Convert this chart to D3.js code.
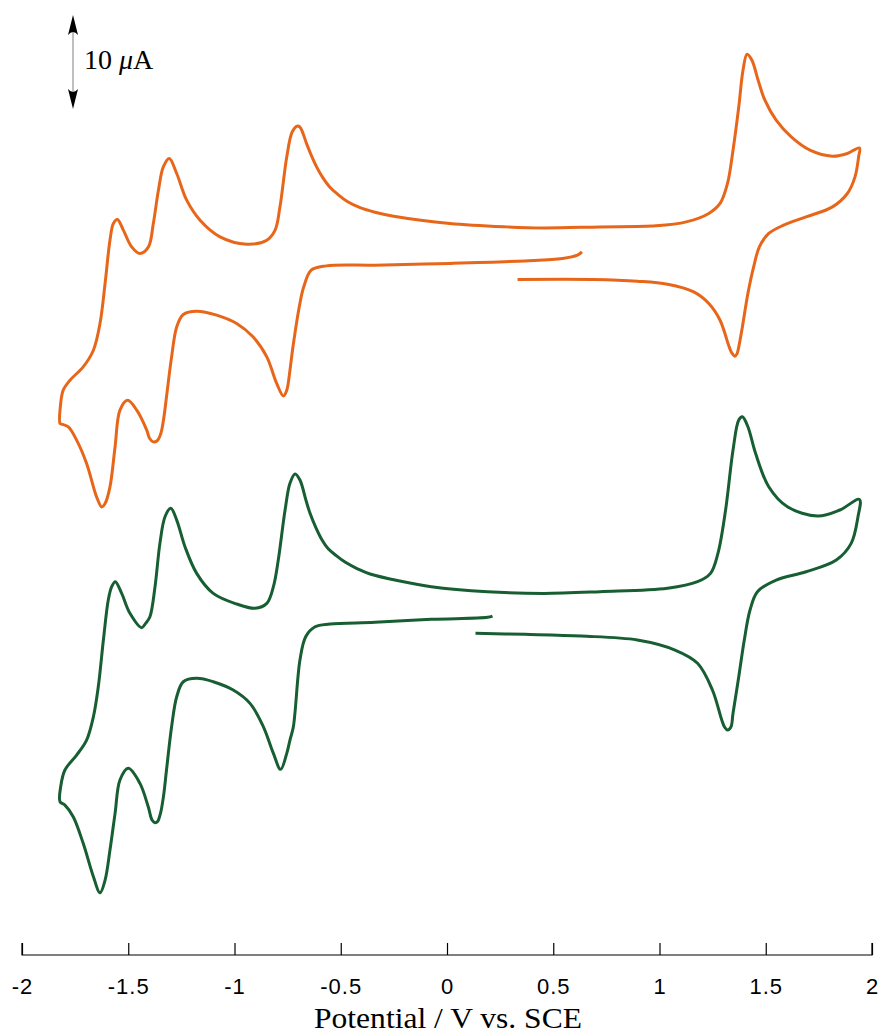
<!DOCTYPE html>
<html>
<head>
<meta charset="utf-8">
<script src="https://cdn.jsdelivr.net/npm/d3@7"></script>
<style>
  body { margin: 0; background: #fff; }
  .tick text { font-family: "Liberation Sans", Arial, sans-serif; }
</style>
</head>
<body>
<div class="c-chart"></div>
<script>
var W = 885, H = 1033;

// potential (V vs SCE) and current (uA, relative to the rest current)
var orangeE = [0.635,0.614,0.544,0.367,0.014,-0.339,-0.568,-0.639,-0.674,-0.692,-0.725,-0.739,-0.754,-0.770,-0.802,-0.848,-0.913,-0.990,-1.084,-1.178,-1.241,-1.272,-1.296,-1.320,-1.333,-1.347,-1.364,-1.382,-1.400,-1.413,-1.460,-1.503,-1.539,-1.562,-1.586,-1.609,-1.625,-1.649,-1.696,-1.743,-1.782,-1.813,-1.821,
  -1.818,-1.806,-1.774,-1.712,-1.664,-1.633,-1.609,-1.586,-1.570,-1.551,-1.523,-1.484,-1.445,-1.405,-1.382,-1.358,-1.335,-1.307,-1.272,-1.225,-1.162,-1.068,-0.943,-0.848,-0.809,-0.786,-0.754,-0.729,-0.706,-0.692,-0.660,-0.639,-0.613,-0.586,-0.551,-0.515,-0.471,-0.409,-0.339,-0.251,0.014,0.279,0.455,0.720,0.984,1.126,1.232,1.285,1.320,1.346,1.373,1.393,1.412,1.435,1.464,1.496,1.549,1.620,1.708,1.814,1.884,1.941,
  1.937,1.920,1.884,1.814,1.690,1.584,1.514,1.470,1.443,1.416,1.390,1.373,1.365,1.355,1.341,1.328,1.285,1.232,1.161,1.038,0.896,0.685,0.332];
var orangeI = [0,-0.35,-0.70,-0.96,-1.23,-1.41,-1.49,-1.95,-3.72,-5.46,-10.11,-12.59,-14.71,-15.32,-13.97,-11.17,-9.04,-7.62,-6.73,-6.31,-6.66,-7.98,-11.17,-15.43,-17.70,-19.34,-20.09,-20.21,-19.82,-18.97,-16.84,-15.78,-16.84,-20.74,-25.0,-26.77,-27.13,-26.06,-22.51,-20.03,-18.62,-18.33,-18.26,
  -16.13,-14.71,-13.65,-12.23,-10.46,-7.62,-3.36,1.24,3.02,3.45,2.31,0.53,-0.17,0.53,3.02,6.56,9.04,9.94,8.34,5.50,3.37,1.60,0.82,1.24,2.31,4.79,10.11,12.73,13.37,13.27,11.46,10.29,9.01,7.95,6.88,6.14,5.39,4.70,4.22,3.80,3.02,2.66,2.55,2.66,2.77,3.19,4.09,5.15,7.28,10.82,15.43,19.33,21.03,20.39,18.27,16.14,14.01,12.23,10.82,10.18,10.47,11.06,
  10.11,7.98,6.21,4.79,3.72,2.84,1.96,0.53,-1.60,-4.43,-7.98,-10.11,-10.83,-11.10,-10.78,-10.11,-7.27,-5.49,-4.26,-3.44,-3.12,-2.94,-2.94];

var greenE = [0.214,0.191,-0.074,-0.339,-0.551,-0.621,-0.665,-0.692,-0.723,-0.739,-0.754,-0.783,-0.817,-0.864,-0.927,-1.006,-1.100,-1.178,-1.241,-1.272,-1.296,-1.320,-1.334,-1.348,-1.362,-1.374,-1.388,-1.406,-1.445,-1.500,-1.539,-1.562,-1.586,-1.609,-1.633,-1.664,-1.712,-1.759,-1.798,-1.821,
  -1.818,-1.798,-1.743,-1.696,-1.664,-1.641,-1.617,-1.594,-1.578,-1.561,-1.531,-1.492,-1.437,-1.419,-1.398,-1.374,-1.351,-1.327,-1.300,-1.272,-1.233,-1.178,-1.100,-0.990,-0.904,-0.848,-0.817,-0.794,-0.762,-0.739,-0.715,-0.692,-0.664,-0.645,-0.616,-0.588,-0.560,-0.522,-0.480,-0.419,-0.362,-0.221,-0.074,0.191,0.455,0.720,1.038,1.179,1.240,1.275,1.311,1.346,1.373,1.390,1.416,1.452,1.514,1.602,1.744,1.849,1.941,
  1.934,1.902,1.832,1.690,1.549,1.461,1.426,1.399,1.373,1.346,1.336,1.320,1.306,1.293,1.249,1.179,1.073,0.896,0.632,0.367,0.134];
var greenI = [0,-0.14,-0.35,-0.67,-0.85,-1.14,-2.20,-4.68,-11.78,-13.19,-14.61,-16.31,-14.61,-11.78,-9.29,-7.87,-6.99,-6.63,-6.99,-8.59,-11.78,-16.38,-19.15,-20.96,-21.86,-21.99,-21.70,-20.29,-17.80,-16.20,-17.45,-20.99,-24.89,-28.09,-29.44,-27.73,-24.18,-21.35,-20.11,-19.76,
  -18.16,-16.38,-14.79,-13.19,-10.71,-7.52,-2.55,1.70,3.12,3.65,2.41,0.29,-1.24,-0.80,-0.07,3.12,7.73,10.56,11.46,10.21,7.37,4.54,2.41,1.28,0.82,1.35,3.12,5.96,11.28,14.12,15.11,14.47,12.34,10.96,9.36,8.09,7.18,6.44,5.74,5.00,4.47,3.72,3.12,2.59,2.41,2.59,2.95,3.65,4.54,6.67,11.28,17.66,20.85,21.20,20.14,17.31,13.76,11.63,10.64,11.28,12.41,
  10.56,7.73,5.96,4.71,3.83,2.59,0.64,-2.55,-6.46,-10.35,-11.81,-12.13,-11.81,-11.06,-7.87,-5.03,-3.62,-2.55,-2.13,-1.95,-1.84];

var seriesColors = ["#e8661a", "#175e33"];
var seriesOffsets = [74.8, 36.06]; // vertical stacking offset, uA

var xTicks = [-2, -1.5, -1, -0.5, 0, 0.5, 1, 1.5, 2];
var xAxisLabel = "Potential / V vs. SCE";
var scaleBarUA = 10;

var margin = { top: 15, right: 13, bottom: 78, left: 22 };

var svg = d3.select(".c-chart").append("svg")
    .attr("width", W)
    .attr("height", H);

var xScale = d3.scaleLinear()
    .domain([-2, 2])
    .range([margin.left, W - margin.right]);

var yScale = d3.scaleLinear()
    .domain([0, 100])
    .range([H - margin.bottom, margin.top]);

var line = d3.line()
    .x(function (d) { return xScale(d[0]); })
    .y(function (d) { return yScale(d[1]); })
    .curve(d3.curveCatmullRom.alpha(0.5));

var curves = [
    d3.zip(orangeE, orangeI.map(function (v) { return v + seriesOffsets[0]; })),
    d3.zip(greenE, greenI.map(function (v) { return v + seriesOffsets[1]; }))
];

svg.selectAll(".c-line")
    .data(curves)
    .enter()
    .append("path")
    .attr("class", "c-line")
    .attr("d", line)
    .attr("fill", "none")
    .attr("stroke", function (d, i) { return seriesColors[i]; })
    .attr("stroke-width", 3)
    .attr("stroke-linejoin", "round");

// x axis, ticks pointing up
var xAxis = svg.append("g")
    .attr("class", "x-axis")
    .attr("transform", "translate(0," + yScale(0) + ")")
    .call(d3.axisBottom(xScale)
        .tickValues(xTicks)
        .tickSize(-12)
        .tickPadding(23)
        .tickFormat(function (d) { return String(d); }));

xAxis.select(".domain")
    .attr("d", "M" + xScale(-2) + ",-12V0H" + xScale(2) + "V-12")
    .attr("stroke", "#000")
    .attr("stroke-width", 1.2);
xAxis.selectAll(".tick line").attr("stroke-width", 1.2);
xAxis.selectAll(".tick text")
    .attr("font-size", 22)
    .attr("letter-spacing", 1)
    .attr("fill", "#000");

svg.append("text")
    .attr("x", xScale(0) + 1)
    .attr("y", 1028)
    .attr("text-anchor", "middle")
    .attr("font-family", "'Liberation Serif', 'Times New Roman', serif")
    .attr("font-size", 29)
    .attr("textLength", 268)
    .attr("lengthAdjust", "spacingAndGlyphs")
    .text(xAxisLabel);

// 10 uA scale bar
var barX = 73;
var barTop = yScale(100), barBot = yScale(100 - scaleBarUA);

svg.append("line")
    .attr("x1", barX).attr("x2", barX)
    .attr("y1", barTop + 10).attr("y2", barBot - 10)
    .attr("stroke", "#aaa")
    .attr("stroke-width", 1.5);

function arrowHead(tipY, dir) {
    var p = d3.path();
    p.moveTo(barX, tipY);
    p.lineTo(barX + 5, tipY + dir * 20);
    p.quadraticCurveTo(barX, tipY + dir * 14, barX - 5, tipY + dir * 20);
    p.closePath();
    return p.toString();
}

svg.append("path").attr("d", arrowHead(barTop, 1)).attr("fill", "#000");
svg.append("path").attr("d", arrowHead(barBot, -1)).attr("fill", "#000");

var sbText = svg.append("text")
    .attr("x", barX + 11)
    .attr("y", 69)
    .attr("font-family", "'Liberation Serif', 'Times New Roman', serif")
    .attr("font-size", 28);
sbText.append("tspan").text("10 ");
sbText.append("tspan").attr("font-style", "italic").text("\u03bc");
sbText.append("tspan").text("A");
</script>
</body>
</html>
